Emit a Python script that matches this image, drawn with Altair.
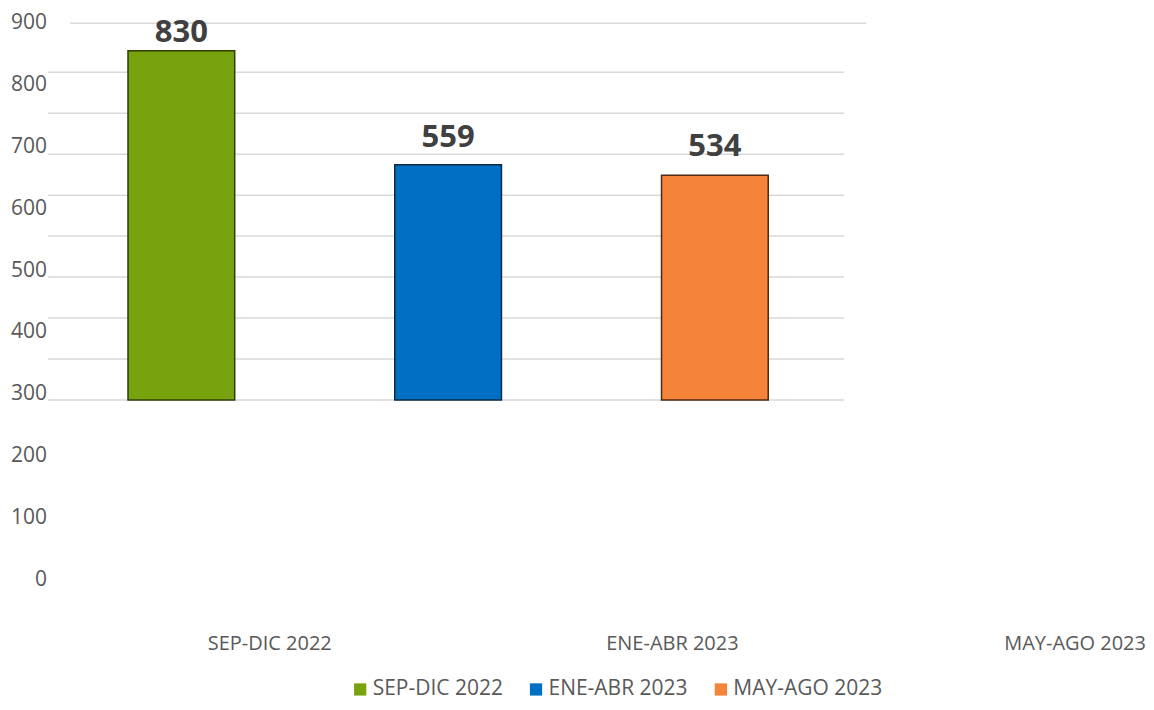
import altair as alt
import pandas as pd

periods = ["SEP-DIC 2022", "ENE-ABR 2023", "MAY-AGO 2023"]
values = [830, 559, 534]
fills = ["#78a20e", "#0070c4", "#f5843a"]
strokes = ["#2e3d05", "#0c2b45", "#4d2a10"]
grid_values = [0, 100, 200, 300, 400, 500, 600, 700, 800]
grid_top = [900]
tick_labels = [0, 100, 200, 300, 400, 500, 600, 700, 800, 900]

bars_df = pd.DataFrame({"periodo": periods, "valor": values})
grid_df = pd.DataFrame({"g": grid_values})
top_df = pd.DataFrame({"g": grid_top})
ticks_df = pd.DataFrame({"t": tick_labels})
xlab_df = pd.DataFrame({"periodo": periods})

FONT = "Open Sans"
GREY = "#595959"

grid = alt.Chart(grid_df).mark_rule(color="#d9d9d9", strokeWidth=1.5).encode(
    y=alt.Y("g:Q", scale=alt.Scale(domain=[0, 800], range=[392, 64]), axis=None),
    x=alt.value(40),
    x2=alt.value(837),
)

grid_t = alt.Chart(top_df).mark_rule(color="#d9d9d9", strokeWidth=1.5).encode(
    y=alt.Y("g:Q", scale=alt.Scale(domain=[0, 900], range=[392, 15]), axis=None),
    x=alt.value(62),
    x2=alt.value(859),
)

xbar = alt.X("periodo:N", sort=periods,
             scale=alt.Scale(domain=periods, range=[40, 841], paddingInner=0.6, paddingOuter=0.3),
             axis=None)
ybar = alt.Y("valor:Q", scale=alt.Scale(domain=[0, 900], range=[392, 13]), axis=None)

bars = alt.Chart(bars_df).mark_bar(strokeWidth=1.5).encode(
    x=xbar,
    y=ybar,
    color=alt.Color("periodo:N", sort=periods,
                    scale=alt.Scale(domain=periods, range=fills),
                    legend=alt.Legend(title=None, orient="none", direction="horizontal",
                                      legendX=342, legendY=671, symbolType="square",
                                      symbolSize=150, labelFont=FONT, labelFontSize=21,
                                      labelColor=GREY, labelOffset=2, columnPadding=22,
                                      padding=0, symbolStrokeWidth=0)),
    stroke=alt.Stroke("periodo:N", sort=periods,
                      scale=alt.Scale(domain=periods, range=strokes), legend=None),
)

vlabels = alt.Chart(bars_df).mark_text(
    font=FONT, fontSize=31, fontWeight="bold", color="#404040", baseline="alphabetic"
).encode(
    x=xbar,
    y=alt.Y("valor:Q", scale=alt.Scale(domain=[0, 900], range=[354, 7]), axis=None),
    text=alt.Text("valor:Q"),
)

ticks = alt.Chart(ticks_df).mark_text(
    font=FONT, fontSize=21, color=GREY, align="right", baseline="middle"
).encode(
    y=alt.Y("t:Q", scale=alt.Scale(domain=[0, 900], range=[572, 15]), axis=None),
    x=alt.value(39),
    text=alt.Text("t:Q"),
)

xlabels = alt.Chart(xlab_df).mark_text(
    font=FONT, fontSize=20, color=GREY, align="center", baseline="middle"
).encode(
    x=alt.X("periodo:N", sort=periods,
            scale=alt.Scale(type="point", domain=periods, range=[262, 1068], padding=0),
            axis=None),
    y=alt.value(636),
    text="periodo:N",
)

chart = alt.layer(grid, grid_t, bars, vlabels, ticks, xlabels).resolve_scale(
    x="independent", y="independent", color="independent", stroke="independent"
).properties(
    width=1130, height=700, background="white",
    padding={"left": 0, "top": 0, "right": 0, "bottom": 0}
).configure_view(strokeWidth=0)

chart.save("out.html", embed_options={"renderer": "svg", "actions": False})
